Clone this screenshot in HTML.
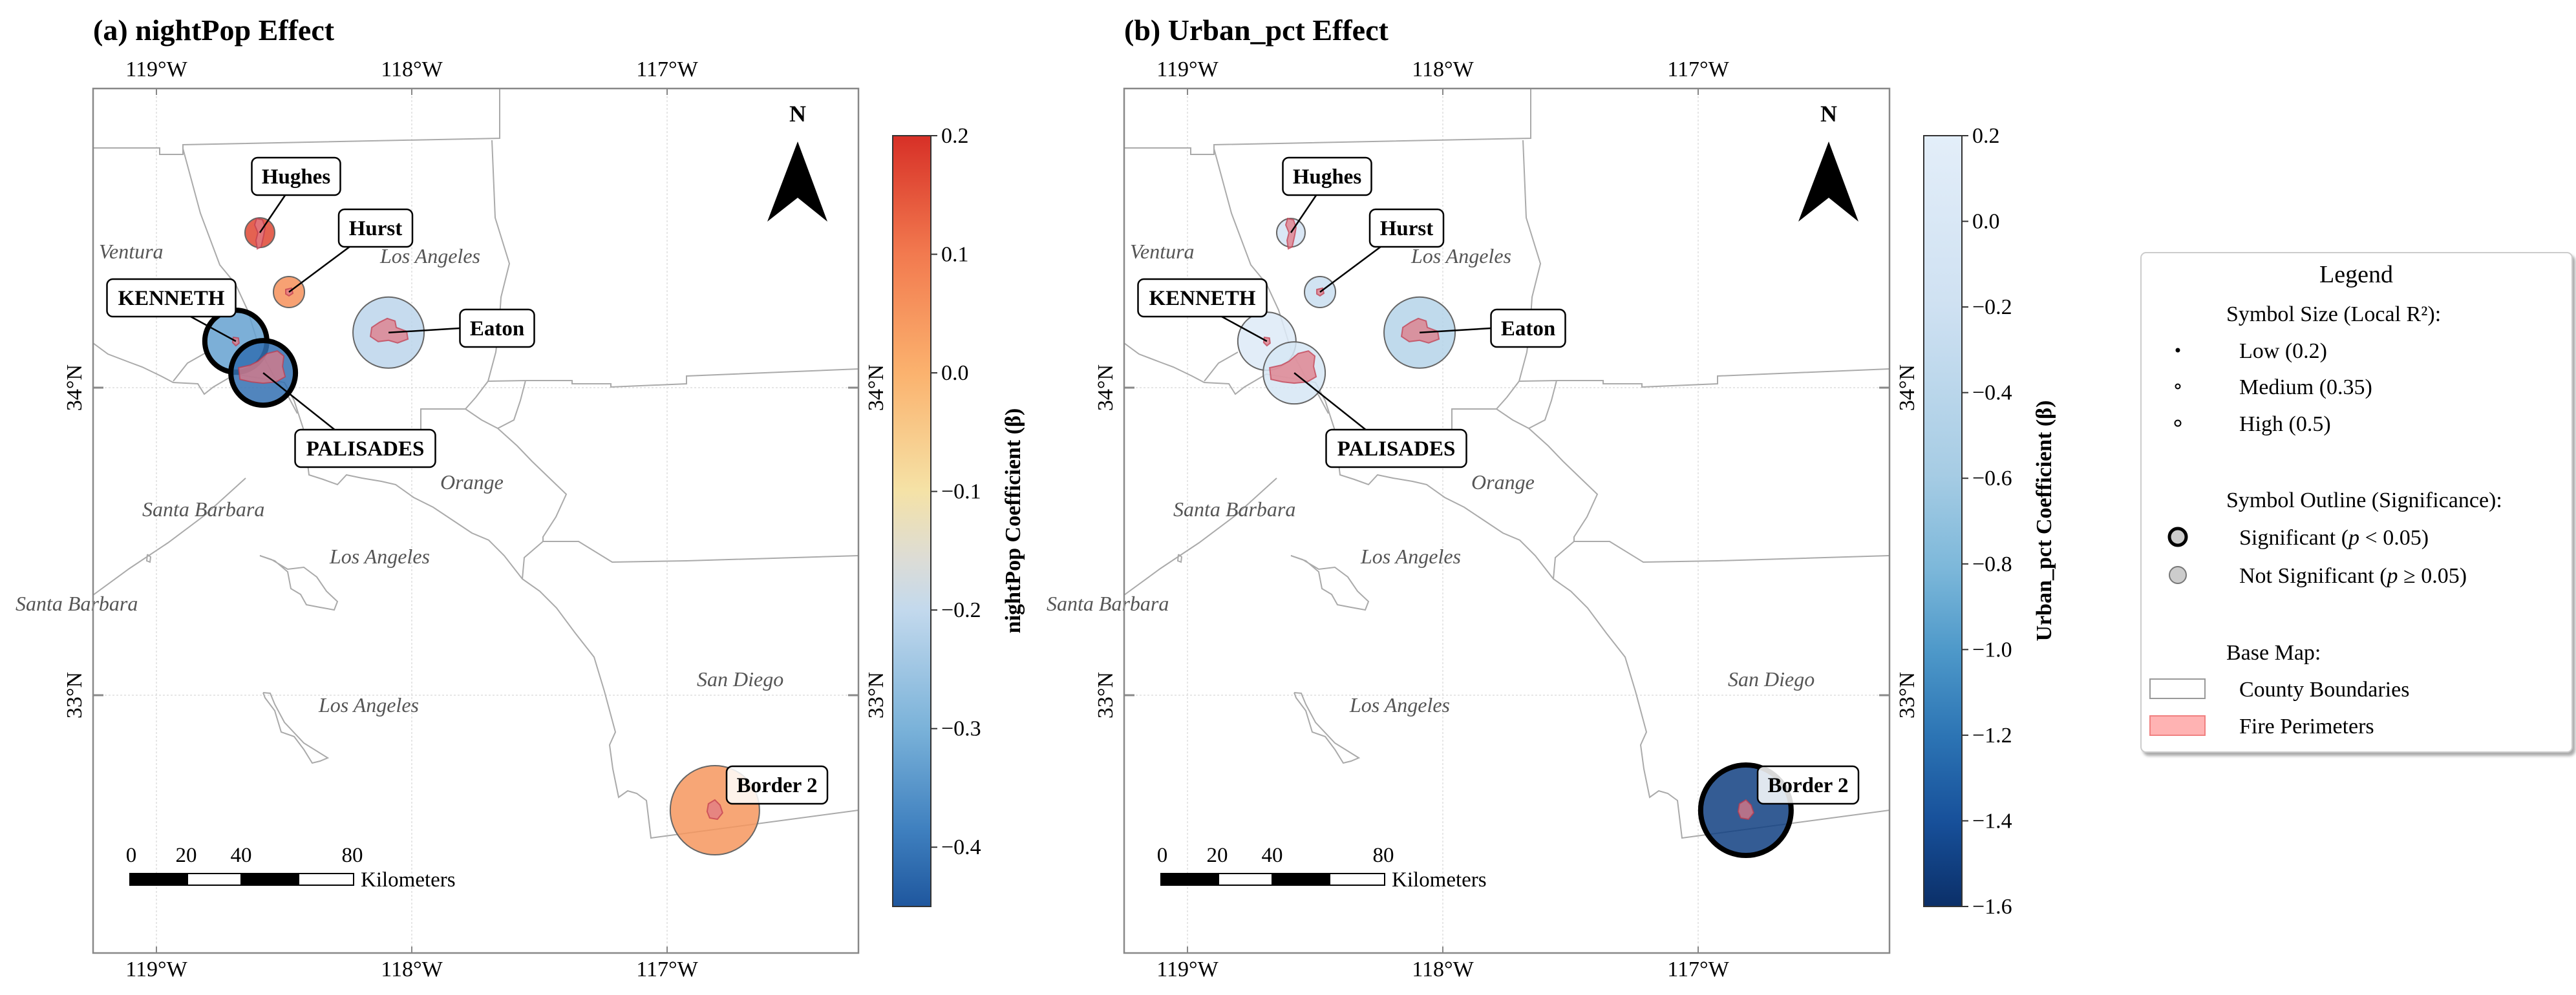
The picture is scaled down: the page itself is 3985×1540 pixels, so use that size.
<!DOCTYPE html>
<html><head><meta charset="utf-8"><style>
html,body{margin:0;padding:0;background:#fff;}
svg{display:block;font-family:"Liberation Serif","DejaVu Serif",serif;}
</style></head><body>
<svg id="fig" width="3985" height="1540" viewBox="0 0 3985 1540" xmlns="http://www.w3.org/2000/svg">
<defs>
<linearGradient id="gradA" x1="0" y1="0" x2="0" y2="1">
<stop offset="0" stop-color="#d73027"/><stop offset="0.154" stop-color="#f27a4f"/><stop offset="0.308" stop-color="#fbb26e"/><stop offset="0.46" stop-color="#f5e2a6"/><stop offset="0.55" stop-color="#dcdcd6"/><stop offset="0.615" stop-color="#c3d9ed"/><stop offset="0.77" stop-color="#7ab2d9"/><stop offset="0.9" stop-color="#3f80bf"/><stop offset="1" stop-color="#1f579e"/>
</linearGradient>
<linearGradient id="gradB" x1="0" y1="0" x2="0" y2="1">
<stop offset="0" stop-color="#e3eef9"/><stop offset="0.22" stop-color="#cfe1f2"/><stop offset="0.44" stop-color="#a6cce4"/><stop offset="0.56" stop-color="#7db8da"/><stop offset="0.67" stop-color="#4d98c9"/><stop offset="0.78" stop-color="#2c74b4"/><stop offset="0.89" stop-color="#17509a"/><stop offset="1" stop-color="#0b2f68"/>
</linearGradient>
<clipPath id="clipMap"><rect x="144" y="137" width="1184" height="1338"/></clipPath>
<filter id="shadow" x="-5%" y="-5%" width="110%" height="110%"><feDropShadow dx="4" dy="5" stdDeviation="2" flood-color="#888" flood-opacity="0.7"/></filter>
</defs>
</svg>
<script>
// ---- data ----
const fireNames = ["Hughes","Hurst","KENNETH","PALISADES","Eaton","Border 2"];
const fireLon = [-118.595,-118.481,-118.689,-118.582,-118.091,-116.813];
const fireLat = [34.504,34.311,34.151,34.048,34.179,32.626];
const nightPopBeta = [0.17,0.06,-0.33,-0.41,-0.21,0.05];
const nightPopR2 = [0.23,0.24,0.48,0.50,0.55,0.69];
const nightPopSig = [false,false,true,true,false,false];
const urbanBeta = [-0.12,-0.25,0.08,-0.05,-0.45,-1.50];
const urbanR2 = [0.22,0.24,0.45,0.48,0.55,0.70];
const urbanSig = [false,false,false,false,false,true];
const lonTicks = [-119,-118,-117];
const latTicks = [34,33];
const cbTicksA = [0.2,0.1,0.0,-0.1,-0.2,-0.3,-0.4];
const cbTicksB = [0.2,0.0,-0.2,-0.4,-0.6,-0.8,-1.0,-1.2,-1.4,-1.6];

const NS="http://www.w3.org/2000/svg";
const svg=document.getElementById('fig');
function el(tag,attrs,parent,text){const e=document.createElementNS(NS,tag);for(const k in attrs)e.setAttribute(k,attrs[k]);if(text!==undefined)e.textContent=text;(parent||svg).appendChild(e);return e;}
function X(lon){return 242+(lon+119)*395;}
function Y(lat){return 600-(lat-34)*476;}
function fmt(v){const s=Math.abs(v).toFixed(1);return (v<0?"\u2212":"")+s;}
function hex(c){return [parseInt(c.slice(1,3),16),parseInt(c.slice(3,5),16),parseInt(c.slice(5,7),16)];}
function interp(stops,t){t=Math.max(0,Math.min(1,t));for(let i=1;i<stops.length;i++){if(t<=stops[i][0]){const a=stops[i-1],b=stops[i];const f=(t-a[0])/(b[0]-a[0]);const ca=hex(a[1]),cb=hex(b[1]);return "rgb("+ca.map((v,j)=>Math.round(v+(cb[j]-v)*f)).join(",")+")";}}return stops[stops.length-1][1];}
const stopsA=[[0,"#d73027"],[0.154,"#f27a4f"],[0.308,"#fbb26e"],[0.46,"#f5e2a6"],[0.55,"#dcdcd6"],[0.615,"#c3d9ed"],[0.77,"#7ab2d9"],[0.9,"#3f80bf"],[1,"#1f579e"]];
const stopsB=[[0,"#e3eef9"],[0.22,"#cfe1f2"],[0.44,"#a6cce4"],[0.56,"#7db8da"],[0.67,"#4d98c9"],[0.78,"#2c74b4"],[0.89,"#17509a"],[1,"#0b2f68"]];

// basemap polylines (panel-local px)
const basemap=[
"144,229 247,229 247,239 283,239 283,224 773,214 773,137",
"761,217 766,337 788,408 775,460 772,505 767,545 755,590 736,615 720,633 651,633 651,680",
"813,589 885,589 885,594 945,594 945,599 1062,594 1062,582 1328,571",
"755,590 813,589 805,620 795,650 770,663",
"720,633 745,650 770,663 800,690 823,714 850,740 876,765 860,800 840,831 840,838 895,838 947,870 1062,868 1328,860",
"840,838 811,863 808,896",
"144,531 167,548 201,561 220,568 249,582 268,592 306,594 316,610 330,599 364,579 400,585 440,592 455,620 469,663 478,735 500,742 522,750 536,735 560,740 590,745 612,750 640,770 670,785 700,805 730,825 756,836 780,860 808,896 835,915 861,941 890,980 919,1017 935,1070 952,1133 943,1153 948,1190 957,1234 971,1224 985,1228 1000,1239 1007,1297 1328,1254",
"283,230 310,330 340,410 364,439 383,480 402,541 425,585 445,612 460,640",
"268,590 290,562 320,545",
"144,921 200,880 260,840 316,798 380,740",
"402,860 420,866 445,881 470,878 490,893 505,915 522,931 517,944 495,940 474,936 465,920 450,911 445,885 425,868 402,860",
"407,1072 418,1073 425,1090 440,1118 470,1150 507,1173 495,1178 483,1181 470,1160 455,1140 435,1133 425,1100 410,1080 407,1072",
"228,858 233,862 232,870 227,868 228,858"];
const regionLabels=[["Ventura",153,400],["Los Angeles",588,407],["Orange",681,757],["Santa Barbara",220,799],["Los Angeles",510,872],["Santa Barbara",24,945],["San Diego",1078,1062],["Los Angeles",493,1102]];
const firePaths=[
"-5,-22 4,-20 8,-8 6,4 2,22 -4,25 -6,12 -3,0 -8,-12",
"-5,-4 4,-6 6,2 0,6 -5,3",
"-4,-6 4,-5 5,3 0,7 -5,2",
"-38,-8 -20,-12 -8,-18 6,-30 22,-34 32,-26 30,-10 34,6 20,14 0,16 -18,14 -36,10",
"-26,-8 -14,-16 -2,-22 10,-18 12,-8 28,-2 30,10 14,16 0,12 -16,14 -28,6",
"-10,-10 0,-16 8,-8 12,4 4,14 -8,12 -12,2"];
// label box layout, same order as fireNames
const labelBoxes=[[458,273,137],[581,353,114],[265,461,199],[565,694,217],[769,508,115],[1202,1215,156]];

function panel(dx,title,beta,r2,sig,stops,grad,cbTicks,vmax,vmin,cbLabel,key){
  const g=el('g',{transform:`translate(${dx},0)`});
  
  
  const t=el('text',{x:144,y:62,'font-size':46,'font-weight':'bold'},g,title);
  
  const map=el('g',{'clip-path':'url(#clipMap)'},g);
  
  lonTicks.forEach(l=>{const ln=el('line',{x1:X(l),x2:X(l),y1:137,y2:1475,stroke:'#ddd','stroke-width':1.5,'stroke-dasharray':'3,3'},map);});
  latTicks.forEach(l=>{const ln=el('line',{x1:144,x2:1328,y1:Y(l),y2:Y(l),stroke:'#ddd','stroke-width':1.5,'stroke-dasharray':'3,3'},map);});
  basemap.forEach(p=>{const pl=el('polyline',{points:p,fill:'none',stroke:'#aaa','stroke-width':2},map);});
  const order=[4,0,1,2,3,5];
  order.forEach(i=>{
    const c=el('circle',{cx:X(fireLon[i]),cy:Y(fireLat[i]),r:r2[i]*100,fill:interp(stops,(vmax-beta[i])/(vmax-vmin)),'fill-opacity':0.85,stroke:sig[i]?'#000':'#666','stroke-width':sig[i]?8:2},map);
    
    
  });
  fireNames.forEach((n,i)=>{const p=el('polygon',{points:firePaths[i],transform:`translate(${X(fireLon[i])},${Y(fireLat[i])})`,fill:'#e07a86','fill-opacity':0.75,stroke:'#c0394c','stroke-width':2,'stroke-opacity':0.7},map);});
  fireNames.forEach((n,i)=>{
    const b=labelBoxes[i];const fx=X(fireLon[i]),fy=Y(fireLat[i]);
    const lg=el('g',{},g);
    if(i===4){el('line',{x1:fx,y1:fy,x2:b[0]-b[2]/2,y2:b[1],stroke:'#000','stroke-width':2.5},lg);}
    else if(i!==5){el('line',{x1:fx,y1:fy,x2:b[0]+(fx-b[0])*0.3,y2:fy<b[1]?b[1]-29:b[1]+29,stroke:'#000','stroke-width':2.5},lg);}
    el('rect',{x:b[0]-b[2]/2,y:b[1]-29,width:b[2],height:58,rx:9,fill:'#fff','fill-opacity':i===5?0.85:1,stroke:'#000','stroke-width':2.5},lg);
    el('text',{x:b[0],y:b[1]+11,'font-size':33,'font-weight':'bold','text-anchor':'middle'},lg,n);
  });
  regionLabels.forEach(r=>{const tx=el('text',{x:r[1],y:r[2],'font-size':32,'font-style':'italic',fill:'#555'},g,r[0]);});
  const fr=el('rect',{x:144,y:137,width:1184,height:1338,fill:'none',stroke:'#888','stroke-width':2.5},g);
  
  lonTicks.forEach(l=>{
    const deg=Math.abs(l)+"\u00B0W";
    const a=el('text',{x:X(l),y:118,'font-size':34,'text-anchor':'middle'},g,deg);
    const b=el('text',{x:X(l),y:1511,'font-size':34,'text-anchor':'middle'},g,deg);
    el('line',{x1:X(l),x2:X(l),y1:137,y2:147,stroke:'#888','stroke-width':2},g);el('line',{x1:X(l),x2:X(l),y1:1465,y2:1475,stroke:'#888','stroke-width':2},g);
  });
  latTicks.forEach(l=>{
    const a=el('text',{x:0,y:0,'font-size':34,'text-anchor':'middle',transform:`translate(126,${Y(l)}) rotate(-90)`},g,l+"\u00B0N");
    const b=el('text',{x:0,y:0,'font-size':34,'text-anchor':'middle',transform:`translate(1366,${Y(l)}) rotate(-90)`},g,l+"\u00B0N");
    el('line',{x1:144,x2:160,y1:Y(l),y2:Y(l),stroke:'#888','stroke-width':3},g);el('line',{x1:1312,x2:1328,y1:Y(l),y2:Y(l),stroke:'#888','stroke-width':3},g);
  });
  const na=el('g',{},g);
  el('text',{x:1234,y:188,'font-size':36,'font-weight':'bold','text-anchor':'middle'},na,'N');
  el('polygon',{points:'1234,219 1280,343 1234,306 1187,343',fill:'#000'},na);
  const sb=el('g',{},g);
  [[201,290,'#000'],[290,373,'#fff'],[373,462,'#000'],[462,547,'#fff']].forEach(s=>el('rect',{x:s[0],y:1352,width:s[1]-s[0],height:18,fill:s[2],stroke:'#000','stroke-width':2},sb));
  [["0",203],["20",288],["40",373],["80",545]].forEach(s=>el('text',{x:s[1],y:1334,'font-size':33,'text-anchor':'middle'},sb,s[0]));
  el('text',{x:558,y:1372,'font-size':33},sb,'Kilometers');
  const cb=el('g',{},g);
  el('rect',{x:1381,y:210,width:59,height:1193,fill:`url(#${grad})`,stroke:'#333','stroke-width':2},cb);
  const cy=v=>210+(vmax-v)/(vmax-vmin)*1193;
  cbTicks.forEach(v=>{el('line',{x1:1440,x2:1450,y1:cy(v),y2:cy(v),stroke:'#333','stroke-width':2},cb);
    const tl=el('text',{x:1456,y:cy(v)+11,'font-size':34},cb,fmt(v));});
  const lab=el('text',{x:0,y:0,'font-size':34,'font-weight':'bold','text-anchor':'middle',transform:`translate(1578,806) rotate(-90)`},cb,cbLabel);
  
}
panel(0,"(a) nightPop Effect",nightPopBeta,nightPopR2,nightPopSig,stopsA,'gradA',cbTicksA,0.2,-0.45,"nightPop Coefficient (\u03B2)","nightpop");
panel(1595,"(b) Urban_pct Effect",urbanBeta,urbanR2,urbanSig,stopsB,'gradB',cbTicksB,0.2,-1.6,"Urban_pct Coefficient (\u03B2)","urban");

const L=el('g',{});


el('rect',{x:3312,y:391,width:667,height:773,rx:8,fill:'#fff',stroke:'#ccc','stroke-width':2,filter:'url(#shadow)'},L);
el('text',{x:3645,y:437,'font-size':38,'text-anchor':'middle'},L,'Legend');
el('text',{x:3444,y:497,'font-size':34},L,'Symbol Size (Local R\u00B2):');
[["Low (0.2)",542,2.5,false],["Medium (0.35)",598,3.5,true],["High (0.5)",655,4.5,true]].forEach(r=>{
  el('circle',{cx:3369,cy:r[1],r:r[2],fill:r[3]?'#fff':'#000',stroke:'#000','stroke-width':2},L);
  el('text',{x:3464,y:r[1]+12,'font-size':34},L,r[0]);});
el('text',{x:3444,y:785,'font-size':34},L,'Symbol Outline (Significance):');
el('circle',{cx:3369,cy:831,r:13,fill:'#ccc',stroke:'#000','stroke-width':5},L);
const s1=el('text',{x:3464,y:843,'font-size':34},L);s1.innerHTML='Significant (<tspan font-style="italic">p</tspan> &lt; 0.05)';
el('circle',{cx:3369,cy:890,r:13,fill:'#ccc',stroke:'#777','stroke-width':2},L);
const s2=el('text',{x:3464,y:902,'font-size':34},L);s2.innerHTML='Not Significant (<tspan font-style="italic">p</tspan> \u2265 0.05)';
el('text',{x:3444,y:1021,'font-size':34},L,'Base Map:');
el('rect',{x:3326,y:1051,width:85,height:30,fill:'#fff',stroke:'#999','stroke-width':2},L);
el('text',{x:3464,y:1078,'font-size':34},L,'County Boundaries');
el('rect',{x:3326,y:1108,width:85,height:30,fill:'#ffb3b3',stroke:'#f08080','stroke-width':2},L);
el('text',{x:3464,y:1135,'font-size':34},L,'Fire Perimeters');
</script>
</body></html>
